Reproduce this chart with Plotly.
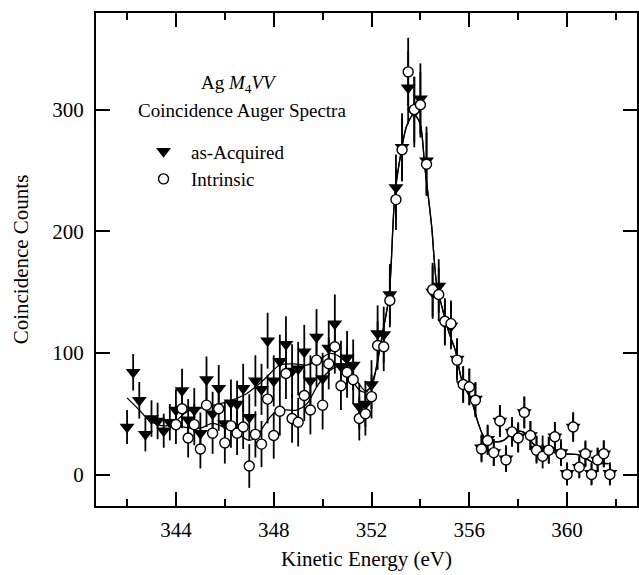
import plotly.graph_objects as go

# --- data ---
acq_energy = [342.0, 342.25, 342.5, 342.75, 343.0, 343.25, 343.5, 343.75,
              344.0, 344.25, 344.5, 344.75, 345.0, 345.25, 345.5, 345.75,
              346.0, 346.25, 346.5, 346.75, 347.0, 347.25, 347.5, 347.75,
              348.0, 348.25, 348.5, 348.75, 349.0, 349.25, 349.5, 349.75,
              350.0, 350.25, 350.5, 350.75, 351.0, 351.25, 351.5, 351.75,
              352.0, 352.25, 352.5, 352.75, 353.0, 353.25, 353.5, 353.75,
              354.0, 354.25, 354.5, 354.75, 355.0, 355.25, 355.5, 355.75,
              356.0, 356.25, 356.5, 356.75, 357.0, 357.25, 357.5, 357.75,
              358.0, 358.25, 358.5, 358.75, 359.0, 359.25, 359.5, 359.75,
              360.0, 360.25, 360.5, 360.75, 361.0, 361.25, 361.5, 361.75]
acq_counts = [39, 84, 61, 33, 46, 44, 36, 43,
              53, 69, 45, 53, 34, 78, 50, 71,
              42, 59, 58, 71, 47, 77, 70, 110,
              77, 93, 107, 85, 87, 101, 77, 113,
              79, 104, 124, 89, 96, 90, 56, 58,
              74, 116, 115, 148, 236, 269, 318, 298,
              309, 258, 150, 155, 125, 122, 95, 74,
              72, 62, 22, 29, 18, 44, 13, 35,
              31, 51, 32, 21, 21, 20, 31, 18,
              1, 39, 6, 17, 1, 12, 17, 1]
acq_err = [14, 15, 15, 14, 15, 15, 14, 15,
           17, 18, 17, 18, 17, 19, 18, 19,
           18, 19, 19, 20, 19, 21, 21, 23,
           21, 22, 23, 22, 22, 22, 21, 23,
           21, 22, 24, 21, 22, 21, 19, 19,
           20, 23, 23, 25, 27, 28, 30, 29,
           29, 28, 22, 22, 19, 19, 17, 15,
           15, 14, 11, 12, 11, 13, 11, 12,
           12, 13, 12, 11, 11, 11, 12, 11,
           9, 12, 9, 11, 9, 10, 11, 9]

int_energy = [344.0, 344.25, 344.5, 344.75, 345.0, 345.25, 345.5, 345.75,
              346.0, 346.25, 346.5, 346.75, 347.0, 347.25, 347.5, 347.75,
              348.0, 348.25, 348.5, 348.75, 349.0, 349.25, 349.5, 349.75,
              350.0, 350.25, 350.5, 350.75, 351.0, 351.25, 351.5, 351.75,
              352.0, 352.25, 352.5, 352.75, 353.0, 353.25, 353.5, 353.75,
              354.0, 354.25, 354.5, 354.75, 355.0, 355.25, 355.5, 355.75,
              356.0, 356.25, 356.5, 356.75, 357.0, 357.25, 357.5, 357.75,
              358.0, 358.25, 358.5, 358.75, 359.0, 359.25, 359.5, 359.75,
              360.0, 360.25, 360.5, 360.75, 361.0, 361.25, 361.5, 361.75]
int_counts = [41, 54, 30, 41, 21, 57, 34, 54,
              26, 40, 34, 39, 7, 33, 25, 62,
              32, 52, 83, 46, 43, 65, 53, 94,
              57, 91, 105, 73, 84, 78, 46, 50,
              64, 106, 105, 143, 226, 267, 331, 300,
              304, 255, 152, 148, 126, 124, 94, 74,
              72, 61, 21, 28, 18, 44, 12, 35,
              30, 51, 32, 20, 15, 20, 31, 17,
              0, 39, 6, 17, 0, 12, 17, 0]
int_err = [16, 16, 16, 17, 16, 18, 17, 18,
           17, 18, 18, 18, 18, 19, 19, 20,
           19, 20, 21, 20, 20, 21, 20, 22,
           20, 21, 22, 20, 21, 20, 18, 18,
           18, 20, 20, 22, 25, 26, 28, 27,
           27, 26, 22, 22, 19, 19, 17, 15,
           15, 14, 11, 12, 11, 13, 10, 12,
           12, 13, 12, 11, 10, 11, 12, 10,
           9, 12, 9, 10, 9, 10, 11, 9]

# smooth fitted curves
fit_acq_x = [342.0, 342.5, 342.87, 343.2, 343.6, 344.0, 344.44, 345.25, 346.07,
             346.9, 347.57, 348.25, 348.8, 349.35, 349.9, 350.3, 350.7, 351.1,
             351.4, 351.73, 352.0, 352.27]
fit_acq_y = [63, 53, 45, 41.5, 40, 44, 51.5, 55.6, 59.7,
             66.6, 77.5, 90, 91, 90, 95, 99.5, 96.7, 88.5,
             77.5, 69, 72, 96.7]
fit_int_x = [344.0, 344.98, 345.5, 346.2, 346.7, 347.0, 347.3, 347.6, 347.98,
             348.39, 348.94, 349.35, 349.76, 350.16, 350.57, 350.98, 351.25,
             351.53, 351.8, 352.14]
fit_int_y = [40, 38, 42, 36.4, 31, 28, 31, 40, 50,
             53, 53, 58, 72, 83, 88.5, 86, 76,
             69, 68, 83]
fit_peak_x = [352.47, 352.72, 352.96, 353.23, 353.43, 353.73, 353.98, 354.18,
              354.46, 354.66, 354.93, 355.18, 355.43, 355.7, 356.1, 356.37,
              356.6, 357.0, 357.4, 357.8, 358.2, 358.6, 359.0, 359.84, 360.5,
              361.07, 361.7]
fit_peak_y = [118, 147, 231, 267, 286, 296, 289, 253,
              204, 157, 134, 116, 102, 77, 60, 42,
              31, 27, 28, 35, 35, 25.5, 20, 17, 16,
              10, 9]

serif = "Liberation Serif"
black_font = lambda s: dict(family=serif, size=s, color="black")

fig = go.Figure()

for fx, fy in [(fit_acq_x, fit_acq_y), (fit_int_x, fit_int_y)]:
    fig.add_trace(go.Scatter(x=fx + fit_peak_x, y=fy + fit_peak_y, mode="lines",
                             line=dict(color="black", width=1.3, shape="spline", smoothing=0.8),
                             showlegend=False, hoverinfo="skip"))

fig.add_trace(go.Scatter(x=acq_energy, y=acq_counts, mode="markers", name="as-Acquired",
                         marker=dict(symbol="triangle-down", size=13, color="black"),
                         error_y=dict(type="data", array=acq_err, color="black", thickness=1.8, width=0)))
fig.add_trace(go.Scatter(x=int_energy, y=int_counts, mode="markers", name="Intrinsic",
                         marker=dict(symbol="circle", size=10, color="white",
                                     line=dict(color="black", width=1.4)),
                         error_y=dict(type="data", array=int_err, color="black", thickness=1.8, width=0)))

fig.add_annotation(text="Ag <i>M</i><sub>4</sub><i>VV</i>", x=0.264, y=0.856, xref="paper", yref="paper",
                   xanchor="center", yanchor="middle", showarrow=False, font=black_font(19))
fig.add_annotation(text="Coincidence Auger Spectra", x=0.27, y=0.803, xref="paper", yref="paper",
                   xanchor="center", yanchor="middle", showarrow=False, font=black_font(19))

fig.update_layout(
    width=639, height=575,
    margin=dict(l=96, r=2, t=13, b=69),
    paper_bgcolor="white", plot_bgcolor="white",
    font=black_font(21),
    legend=dict(x=0.074, y=0.758, xanchor="left", yanchor="top", bgcolor="rgba(0,0,0,0)",
                font=black_font(19), itemwidth=45, tracegroupgap=0),
)
fig.update_xaxes(range=[340.73, 362.86], tick0=344, dtick=4, ticks="inside", ticklen=14,
                 tickwidth=2, tickcolor="black", showline=True, linewidth=2, linecolor="black",
                 mirror="ticks", showgrid=False, zeroline=False, automargin=False,
                 tickfont=black_font(21), ticklabelstandoff=4,
                 minor=dict(dtick=2, tick0=342, ticks="inside", ticklen=7, tickwidth=2, tickcolor="black"),
                 title=dict(text="Kinetic Energy (eV)", font=black_font(21), standoff=10))
fig.update_yaxes(range=[-25.9, 379.4], tick0=0, dtick=100, ticks="inside", ticklen=14,
                 tickwidth=2, tickcolor="black", showline=True, linewidth=2, linecolor="black",
                 mirror="ticks", showgrid=False, zeroline=False, automargin=False,
                 tickfont=black_font(21), ticklabelstandoff=6,
                 title=dict(text="Coincidence Counts", font=black_font(21), standoff=18))

fig.write_html("out.html", post_script="document.body.style.margin='0';",
               config={"displayModeBar": False})
